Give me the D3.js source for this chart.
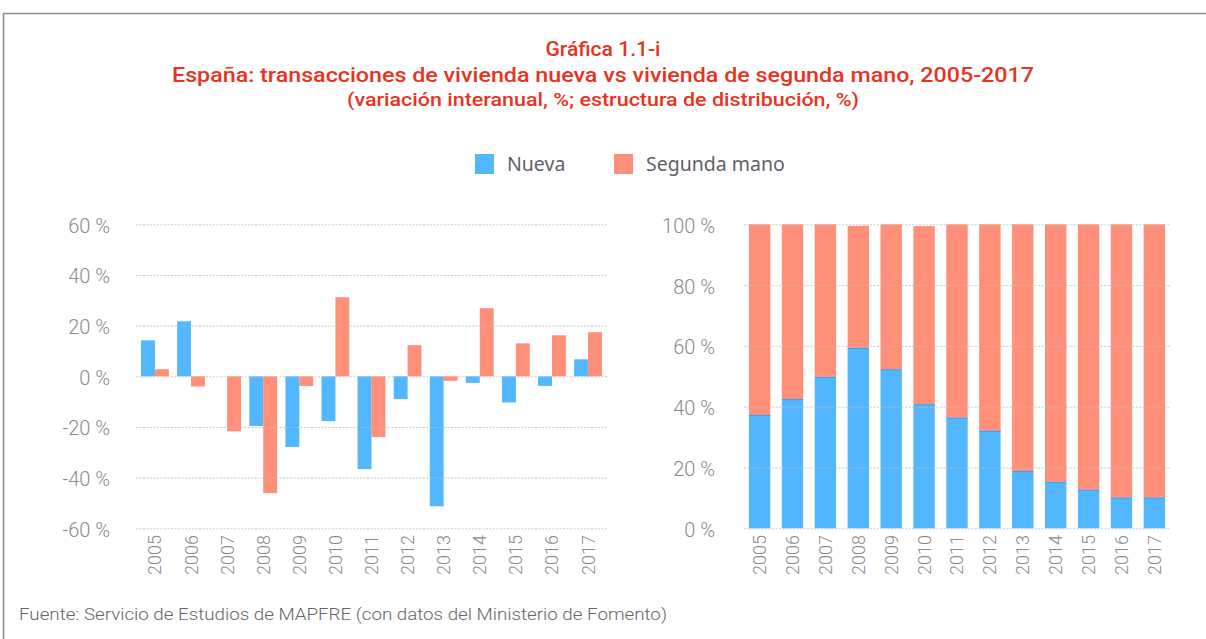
<!DOCTYPE html>
<html>
<head>
<meta charset="utf-8">
<script src="https://cdn.jsdelivr.net/npm/d3@7"></script>
<style>
  body { margin: 0; background: #fff; }
  svg { display: block; }
</style>
</head>
<body>
<script>
// data
const years = ["2005","2006","2007","2008","2009","2010","2011","2012","2013","2014","2015","2016","2017"];
// left: variación interanual, %
const nuevaVar   = [14.2, 21.7, 0, -19.6, -27.9, -17.7, -36.6, -9.0, -51.3, -2.6, -10.3, -3.8, 6.7];
const segundaVar = [2.8, -4.0, -21.7, -46.1, -3.8, 31.2, -24.0, 12.3, -1.8, 26.9, 13.0, 16.2, 17.4];
// right: estructura de distribución, %
const nuevaShare   = [37.3, 42.5, 49.8, 59.3, 52.3, 40.8, 36.4, 32.1, 18.8, 15.3, 12.7, 10.1, 10.1];
const segundaShare = [62.7, 57.5, 50.2, 40.2, 47.7, 58.6, 63.6, 67.9, 81.2, 84.7, 87.3, 89.9, 89.9];
const varTicks = [-60, -40, -20, 0, 20, 40, 60];
const shareTicks = [0, 20, 40, 60, 80, 100];
const series = ["Nueva", "Segunda mano"];

const width = 1206, height = 639;
const cBlue = "#52b7ff", cRed = "#ff8f79";
const tickColor = "#8a8a8a";
const fontAxis = "Roboto, 'Noto Sans', sans-serif";

const svg = d3.select("body").append("svg")
    .attr("width", width)
    .attr("height", height);

svg.append("rect").attr("width", width).attr("height", height).attr("fill", "#fff");

// frame
svg.append("path")
    .attr("d", "M3.5,639 V13.5 H1206")
    .attr("fill", "none")
    .attr("stroke", "#8f8f8f")
    .attr("stroke-width", 1.6);

// titles
const titleColor = "#e8331d";
const titles = [
  {t: "Gráfica 1.1-i", y: 56, size: 21, len: 115},
  {t: "España: transacciones de vivienda nueva vs vivienda de segunda mano, 2005-2017", y: 82, size: 21, len: 862},
  {t: "(variación interanual, %; estructura de distribución, %)", y: 106, size: 18.5, len: 512}
];
svg.selectAll("text.title")
  .data(titles)
  .enter().append("text")
    .attr("class", "title")
    .attr("x", 603)
    .attr("y", d => d.y)
    .attr("text-anchor", "middle")
    .attr("font-family", "Roboto, sans-serif")
    .attr("font-weight", 500)
    .attr("font-size", d => d.size)
    .attr("fill", titleColor)
    .attr("textLength", d => d.len)
    .attr("lengthAdjust", "spacingAndGlyphs")
    .text(d => d.t);

// legend
const legend = svg.append("g");
const legendItems = [
  {name: series[0], color: cBlue, x: 475},
  {name: series[1], color: cRed, x: 614}
];
legendItems.forEach(function(d) {
  legend.append("rect")
      .attr("x", d.x).attr("y", 154)
      .attr("width", 19).attr("height", 20)
      .attr("fill", d.color);
  legend.append("text")
      .attr("x", d.x + 32).attr("y", 171)
      .attr("font-family", "'Noto Sans', sans-serif")
      .attr("font-size", 19.5)
      .attr("fill", "#5f5f6a")
      .text(d.name);
});

// ****************** left chart: variación interanual ******************
const yL = d3.scaleLinear().domain([-60, 60]).range([528.3, 224.3]);
const x0 = d3.scaleBand().domain(years).range([136, 607]).paddingInner(0.23).paddingOuter(0.14);
const x1 = d3.scaleBand().domain(series).range([0, x0.bandwidth()]);

const left = svg.append("g");

const varData = years.map((y, i) => ({year: y, values: [
  {key: series[0], v: nuevaVar[i], color: cBlue},
  {key: series[1], v: segundaVar[i], color: cRed}
]}));

left.selectAll("g.year")
  .data(varData)
  .enter().append("g")
    .attr("transform", d => "translate(" + x0(d.year) + ",0)")
  .selectAll("rect")
  .data(d => d.values.filter(v => v.v !== 0))
  .enter().append("rect")
    .attr("x", d => x1(d.key))
    .attr("width", x1.bandwidth())
    .attr("y", d => yL(Math.max(0, d.v)))
    .attr("height", d => Math.abs(yL(d.v) - yL(0)))
    .attr("fill", d => d.color);

// grid
left.selectAll("line.grid")
  .data(varTicks)
  .enter().append("line")
    .attr("x1", 136).attr("x2", 607)
    .attr("y1", d => yL(d) + 0.5).attr("y2", d => yL(d) + 0.5)
    .attr("stroke", "#bdbdbd")
    .attr("stroke-opacity", 0.8)
    .attr("stroke-dasharray", "2,1.5");

const axL = left.append("g")
    .attr("transform", "translate(110,0)")
    .call(d3.axisLeft(yL).tickValues(varTicks).tickSize(0).tickPadding(0).tickFormat(d => d + " %"));
axL.select(".domain").remove();

const axLx = left.append("g")
    .attr("transform", "translate(0,528)")
    .call(d3.axisBottom(x0).tickSize(0).tickPadding(0));
axLx.select(".domain").remove();
axLx.selectAll("text")
    .attr("transform", "rotate(-90)")
    .attr("text-anchor", "end")
    .attr("x", -7).attr("y", 0).attr("dy", "0.36em");

// ****************** right chart: estructura ******************
const yR = d3.scaleLinear().domain([0, 100]).range([528.3, 224.3]);
const xR = d3.scaleBand().domain(years).range([744, 1170]).paddingInner(0.35).paddingOuter(0.15);

const right = svg.append("g");

const shareData = years.map((y, i) => ({year: y, nueva: nuevaShare[i], segunda: segundaShare[i]}));
const stack = d3.stack().keys(["nueva", "segunda"])(shareData);
const stackColor = {nueva: cBlue, segunda: cRed};

right.selectAll("g.layer")
  .data(stack)
  .enter().append("g")
    .attr("fill", d => stackColor[d.key])
  .selectAll("rect")
  .data(d => d)
  .enter().append("rect")
    .attr("x", d => xR(d.data.year))
    .attr("width", xR.bandwidth())
    .attr("y", d => yR(d[1]))
    .attr("height", d => yR(d[0]) - yR(d[1]));

// thin darker edge on top of the blue segments
right.selectAll("line.edge")
  .data(shareData)
  .enter().append("line")
    .attr("x1", d => xR(d.year)).attr("x2", d => xR(d.year) + xR.bandwidth())
    .attr("y1", d => yR(d.nueva) + 0.5).attr("y2", d => yR(d.nueva) + 0.5)
    .attr("stroke", "#3d9fe6")
    .attr("stroke-width", 1);

right.selectAll("line.grid")
  .data(shareTicks)
  .enter().append("line")
    .attr("x1", 744).attr("x2", 1170)
    .attr("y1", d => yR(d) + 0.5).attr("y2", d => yR(d) + 0.5)
    .attr("stroke", "#bdbdbd")
    .attr("stroke-opacity", 0.8)
    .attr("stroke-dasharray", "2,1.5");

const axR = right.append("g")
    .attr("transform", "translate(715,0)")
    .call(d3.axisLeft(yR).tickValues(shareTicks).tickSize(0).tickPadding(0).tickFormat(d => d + " %"));
axR.select(".domain").remove();

const axRx = right.append("g")
    .attr("transform", "translate(0,528)")
    .call(d3.axisBottom(xR).tickSize(0).tickPadding(0));
axRx.select(".domain").remove();
axRx.selectAll("text")
    .attr("transform", "rotate(-90)")
    .attr("text-anchor", "end")
    .attr("x", -7).attr("y", 0).attr("dy", "0.36em");

// axis text style
svg.selectAll(".tick text")
    .attr("font-family", fontAxis)
    .attr("font-weight", 300)
    .attr("fill", tickColor);
axL.selectAll("text").attr("font-size", 20).attr("dy", "0.4em");
axR.selectAll("text").attr("font-size", 20).attr("dy", "0.4em");
axLx.selectAll("text").attr("font-size", 18);
axRx.selectAll("text").attr("font-size", 18);

// source
svg.append("text")
    .attr("x", 19)
    .attr("y", 620)
    .attr("font-family", "Roboto, sans-serif")
    .attr("font-weight", 300)
    .attr("font-size", 17)
    .attr("fill", "#666")
    .attr("textLength", 648)
    .attr("lengthAdjust", "spacingAndGlyphs")
    .text("Fuente: Servicio de Estudios de MAPFRE (con datos del Ministerio de Fomento)");
</script>
</body>
</html>
